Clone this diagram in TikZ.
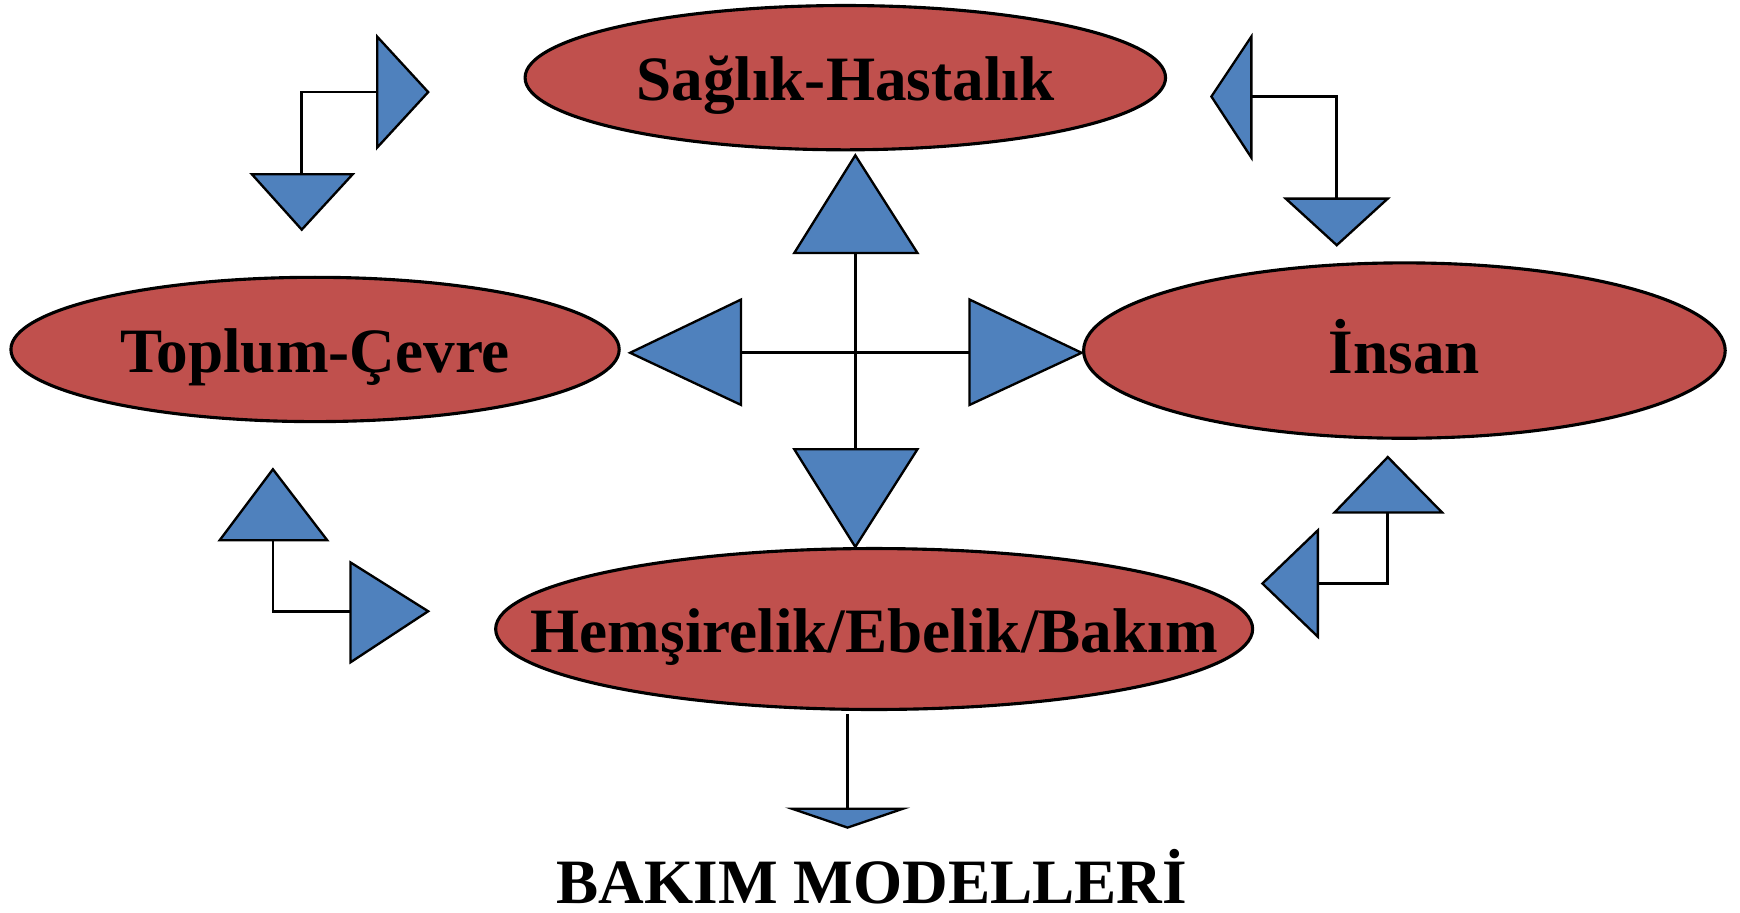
\documentclass[tikz,border=0pt]{standalone}
\usepackage{fontspec}
\setmainfont{Liberation Serif}
\usetikzlibrary{math,shapes.geometric}
\definecolor{ovalred}{HTML}{C0504D}
\definecolor{triblue}{HTML}{4F81BD}
\newcommand{\ovaltext}[1]{\makebox[0pt]{#1}}

\begin{document}
\begin{tikzpicture}[x=0.01cm,y=-0.01cm,
    oval/.style={ellipse, draw=black, line width=0.8pt, fill=ovalred, inner sep=0pt,
      font=\fontsize{16.2}{19}\selectfont\bfseries, text height=0.42cm, text depth=0pt},
    tri/.style={draw=black, line width=0.6pt, fill=triblue, line join=miter},
    link/.style={draw=black, line width=0.7pt}]
      \useasboundingbox (0,0) rectangle (1568.5,823);
      \tikzmath{\cx = 771; \cy = 318;}
      % ellipses
      \node[oval, minimum width=5.77cm, minimum height=1.30cm] (saglik) at (762,70) {\ovaltext{Sağlık-Hastalık}};
      \node[oval, minimum width=5.48cm, minimum height=1.30cm] (toplum) at (284,315) {\ovaltext{Toplum-Çevre}};
      \node[oval, minimum width=5.78cm, minimum height=1.58cm] (insan) at (1266,316) {\ovaltext{İnsan}};
      \node[oval, minimum width=6.82cm, minimum height=1.45cm] (hemsire) at (788,567) {\ovaltext{Hemşirelik/Ebelik/Bakım}};
      \node[font=\fontsize{16.2}{19}\selectfont\bfseries, anchor=base, inner sep=0pt] (baslik) at (786,814) {BAKIM MODELLERİ};
      % centre cross
      \coordinate (cU) at (\cx,228);
      \coordinate (cD) at (\cx,405);
      \coordinate (cL) at (668,\cy);
      \coordinate (cR) at (874,\cy);
      \draw[link] (cL) -- (cR);
      \draw[link] (cU) -- (cD);
      \draw[tri] (716,228) -- (\cx,140) -- (827,228) -- cycle;
      \draw[tri] (716,405) -- (\cx,493) -- (827,405) -- cycle;
      \draw[tri] (668,270) -- (568,\cy) -- (668,365) -- cycle;
      \draw[tri] (874,270) -- (975,\cy) -- (874,365) -- cycle;
      % top left
      \coordinate (tlR) at (340,83);
      \coordinate (tlD) at (272,157);
      \draw[link] (tlR) -| (tlD);
      \draw[tri] (340,33) -- (386,83) -- (340,133) -- cycle;
      \draw[tri] (227,157) -- (272,207) -- (318,157) -- cycle;
      % top right
      \coordinate (trL) at (1128,87);
      \coordinate (trD) at (1205,179);
      \draw[link] (trL) -| (trD);
      \draw[tri] (1128,33) -- (1092,87) -- (1128,142) -- cycle;
      \draw[tri] (1159,179) -- (1205,221) -- (1251,179) -- cycle;
      % bottom left
      \coordinate (blU) at (246,487);
      \coordinate (blR) at (316,551);
      \draw[link] (blU) |- (blR);
      \draw[tri] (198,487) -- (246,423) -- (295,487) -- cycle;
      \draw[tri] (316,507) -- (386,551) -- (316,597) -- cycle;
      % bottom right
      \coordinate (brU) at (1251,462);
      \coordinate (brL) at (1188,526);
      \draw[link] (brU) |- (brL);
      \draw[tri] (1203,462) -- (1251,412) -- (1300,462) -- cycle;
      \draw[tri] (1188,478) -- (1138,526) -- (1188,574) -- cycle;
      % down to the title
      \coordinate (bTop) at (764,644);
      \coordinate (bD) at (764,729);
      \draw[link] (bTop) -- (bD);
      \draw[tri] (714,729) -- (764,746) -- (814,729) -- cycle;
    \end{tikzpicture}
\end{document}
